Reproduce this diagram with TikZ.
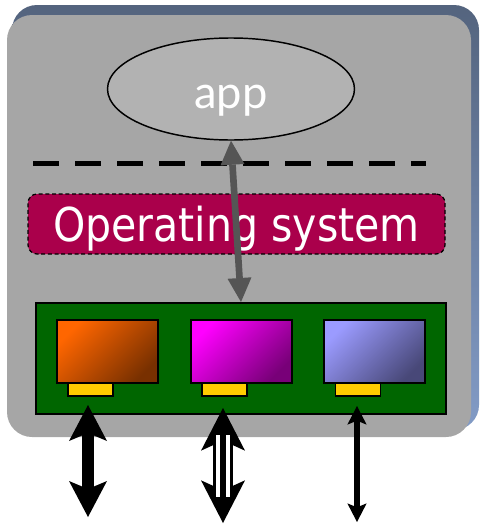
\documentclass[tikz,border=0pt]{standalone}
\usepackage{fontspec}
\usetikzlibrary{arrows.meta,shapes.geometric}
\newfontfamily\osfont[FakeStretch=0.88]{DejaVu Sans}
\newfontfamily\appfont{Lato}
\definecolor{boxgray}{RGB}{166,166,166}
\definecolor{ellgray}{RGB}{178,178,178}
\definecolor{osred}{RGB}{170,0,75}
\definecolor{boardgreen}{RGB}{0,102,0}
\definecolor{tabyellow}{RGB}{255,204,0}
\definecolor{arrgray}{RGB}{85,85,85}
\definecolor{shtop}{RGB}{84,100,126}
\definecolor{shbot}{RGB}{130,155,198}
\definecolor{orL}{RGB}{255,102,0}
\definecolor{orD}{RGB}{120,48,0}
\definecolor{mgL}{RGB}{255,0,255}
\definecolor{mgD}{RGB}{120,0,120}
\definecolor{blL}{RGB}{155,155,255}
\definecolor{blD}{RGB}{72,72,120}
\tikzset{
  bigtip/.tip={Stealth[length=27pt,width=28.5pt,inset=6pt,line width=0pt]},
  midtip/.tip={Stealth[length=32pt,width=33pt,inset=7.5pt,line width=0pt]},
  smalltip/.tip={Stealth[length=14pt,width=14.5pt,inset=3pt,line width=0pt]},
  graytip/.tip={Triangle[length=18pt,width=18pt,line width=0pt]}
}
\begin{document}
\begin{tikzpicture}[x=0.75pt,y=-0.75pt,
  chip/.style={draw=black,line width=1.5pt,minimum width=101*0.75pt,minimum height=63*0.75pt,inner sep=0pt},
  tabbox/.style={draw=black,line width=1.1pt,fill=tabyellow,minimum width=45*0.75pt,minimum height=13*0.75pt,inner sep=0pt}
]
\useasboundingbox (0,0) rectangle (480,525);
% frame with shadow
\node[rounded corners=25*0.75pt,minimum width=467*0.75pt,minimum height=425*0.75pt,
      inner sep=0pt,top color=shtop,bottom color=shbot] (shadow) at (245.5,217.5) {};
\node[rounded corners=25*0.75pt,minimum width=464*0.75pt,minimum height=422*0.75pt,
      inner sep=0pt,fill=boxgray] (frame) at (239,226) {};
% app
\node[ellipse,draw=black,line width=1.1pt,fill=ellgray,minimum width=247*0.75pt,
      minimum height=102*0.75pt,inner sep=0pt] (app) at (231,89) {};
\node[anchor=base,text=white,inner sep=0pt,font=\appfont\fontsize{34}{34}\selectfont] (applbl) at (231,108) {app};
% dashed separator
\coordinate (dl) at (33,163);
\coordinate (dr) at (426,163);
\draw[black,line width=3.75pt,dash pattern=on 19.5pt off 12pt] (dl) -- (dr);
% operating system
\node[draw=black,line width=0.9pt,dash pattern=on 3pt off 2pt,fill=osred,rounded corners=9*0.75pt,
      minimum width=417*0.75pt,minimum height=60*0.75pt,inner sep=0pt] (os) at (236.5,224) {};
\node[anchor=base,text=white,inner sep=0pt,font=\osfont\fontsize{35}{35}\selectfont] (oslbl) at (236.5,241) {Operating system};
% board
\node[draw=black,line width=1.5pt,fill=boardgreen,minimum width=410*0.75pt,
      minimum height=111*0.75pt,inner sep=0pt] (board) at (241,358.5) {};
% chips
\node[chip,top color=orL,bottom color=orD,shading angle=45] (c1) at (107.5,351.5) {};
\node[chip,top color=mgL,bottom color=mgD,shading angle=45] (c2) at (241,351.5) {};
\node[chip,top color=blL,bottom color=blD,shading angle=45] (c3) at (374.5,351.5) {};
\node[tabbox] (t1) at (90.5,389.5) {};
\node[tabbox] (t2) at (224.5,389.5) {};
\node[tabbox] (t3) at (358,389.5) {};
% gray arrow
\draw[arrgray,line width=5pt,{graytip}-{graytip}] (app.south) -- (board.north);
% I/O arrows
\coordinate (a1) at (88,405);
\coordinate (b1) at (88,517);
\coordinate (a2) at (223,408);
\coordinate (b2) at (223,523);
\coordinate (a3) at (357,406);
\coordinate (b3) at (357,522);
\draw[black,line width=9pt,{bigtip}-{bigtip}] (a1) -- (b1);
\draw[black,line width=15pt,{midtip}-{midtip}] (a2) -- (b2);
\draw[white,line width=10.5pt,shorten <=27*0.75pt,shorten >=26*0.75pt] (a2) -- (b2);
\draw[black,line width=4.5pt,shorten <=27*0.75pt,shorten >=26*0.75pt] (a2) -- (b2);
\draw[black,line width=4pt,{smalltip}-{smalltip}] (a3) -- (b3);
\end{tikzpicture}
\end{document}
